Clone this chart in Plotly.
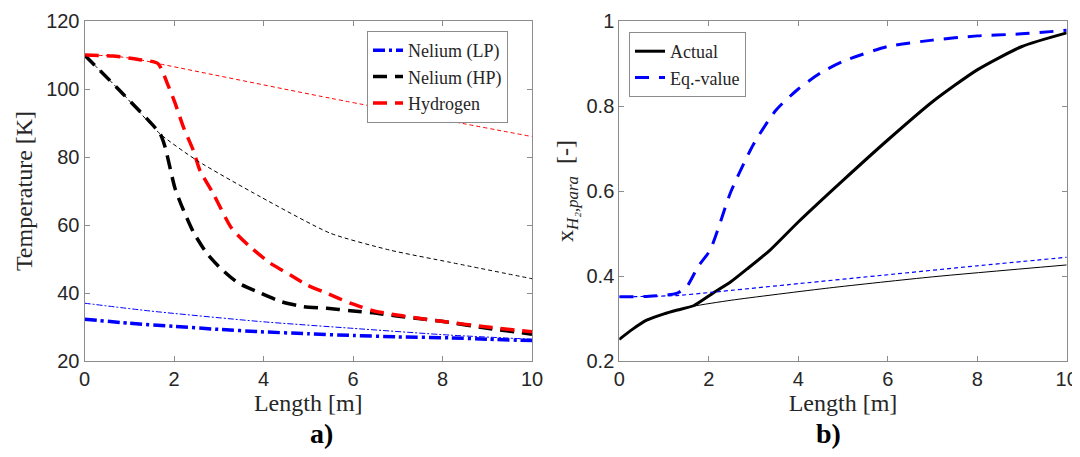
import plotly.graph_objects as go

# ---- panel a) temperatures [K] vs length [m]
lp_x = [0, 1, 2, 3, 3.93, 5, 6, 7, 8.18, 9, 10]
lp_T = [32.3, 31.1, 30.2, 29.3, 28.6, 28.0, 27.5, 27.1, 26.8, 26.4, 26.0]
lp_thin_x = [0, 1.47, 3.93, 6, 8.18, 10]
lp_thin_T = [37.0, 34.7, 31.6, 29.6, 27.6, 26.4]

hp_x = [0, 0.85, 1.69, 1.80, 2.02, 2.21, 2.43, 2.73, 3.03, 3.43, 3.93, 4.41, 4.89,
        5.42, 5.94, 6.45, 6.98, 7.51, 8.02, 9, 10]
hp_T = [110, 98.7, 86.8, 83, 70.9, 64.4, 58, 51.7, 47.4, 43, 40, 37.4, 36,
        35.5, 34.8, 34.2, 33.2, 32.4, 31.6, 29.6, 27.9]
hp_thin_x = [0, 0.85, 1.69, 2.51, 3.93, 5.49, 6.83, 8.18, 10]
hp_thin_T = [110, 98.7, 86.8, 79, 68.3, 57.6, 52.6, 49, 44.2]

h2_x = [0, 0.64, 1.20, 1.64, 1.87, 2.02, 2.21, 2.43, 2.58, 2.87, 3.29, 3.70, 4.15,
        4.60, 4.97, 5.42, 5.94, 6.45, 6.98, 7.51, 8.02, 9, 10]
h2_T = [110, 109.7, 108.7, 107.5, 101, 96, 88.8, 82, 76, 69.4, 59, 53.6, 48.8,
        45.3, 42.4, 39.9, 37, 34.8, 33.5, 32.5, 31.6, 30.0, 28.6]
h2_thin_x = [0, 0.64, 1.20, 1.64, 5.49, 10]
h2_thin_T = [110, 109.7, 108.7, 107.5, 97.3, 86.0]

# ---- panel b) para-hydrogen fraction vs length [m]
act_x = [0, 0.3, 0.61, 1.0, 1.3, 1.66, 2.1, 2.5, 2.85, 3.37, 4, 5, 6, 7, 8, 9, 10]
act_y = [0.251, 0.275, 0.296, 0.311, 0.320, 0.330, 0.360, 0.387, 0.416, 0.461, 0.527,
         0.625, 0.72, 0.81, 0.885, 0.94, 0.972]
act_thin_x = [0, 0.3, 0.61, 1.0, 1.3, 1.66, 2.5, 4.7, 7, 10]
act_thin_y = [0.251, 0.275, 0.296, 0.311, 0.320, 0.329, 0.343, 0.372, 0.398, 0.426]

eq_x = [0, 0.6, 1.28, 1.51, 1.76, 2.03, 2.5, 3, 3.5, 4, 4.5, 5, 6, 7, 8, 8.85, 10]
eq_y = [0.351, 0.352, 0.359, 0.375, 0.422, 0.461, 0.60, 0.71, 0.79, 0.84, 0.878,
        0.905, 0.94, 0.955, 0.965, 0.969, 0.978]
eq_thin_x = [0, 0.6, 1.28, 2.1, 4, 6, 8, 10]
eq_thin_y = [0.351, 0.352, 0.354, 0.362, 0.382, 0.403, 0.424, 0.444]

serif = "Liberation Serif"
sans = "Liberation Sans"
grey = "#8c8c8c"
ink = "#262626"

# the page body adds an 8px margin; size the figure so the page needs no scrollbars
OFF = 8
W, H = 1080 - OFF, 457 - 2 * OFF


def px_x(p):
    return (p - OFF) / W


def px_y(p):
    return (H - (p - OFF)) / H


def line(color, width, dash="solid"):
    return dict(color=color, width=width, dash=dash, shape="spline", smoothing=0.6)


fig = go.Figure()

# thick lines first, thin ones on top
fig.add_trace(go.Scatter(x=lp_x, y=lp_T, mode="lines", name="Nelium (LP)", legend="legend",
                         line=line("#0000ff", 3.5, "12px,4px,3px,4px")))
fig.add_trace(go.Scatter(x=hp_x, y=hp_T, mode="lines", name="Nelium (HP)", legend="legend",
                         line=line("black", 3.5, "14px,8px")))
fig.add_trace(go.Scatter(x=h2_x, y=h2_T, mode="lines", name="Hydrogen", legend="legend",
                         line=line("#ff0000", 3.5, "14px,8px")))
fig.add_trace(go.Scatter(x=lp_thin_x, y=lp_thin_T, mode="lines", showlegend=False,
                         line=line("#0000ff", 1, "6px,2px,2px,2px")))
fig.add_trace(go.Scatter(x=hp_thin_x, y=hp_thin_T, mode="lines", showlegend=False,
                         line=line("black", 1, "4px,3px")))
fig.add_trace(go.Scatter(x=h2_thin_x, y=h2_thin_T, mode="lines", showlegend=False,
                         line=line("#ff0000", 1, "4px,3px")))

fig.add_trace(go.Scatter(x=act_x, y=act_y, mode="lines", name="Actual", legend="legend2",
                         xaxis="x2", yaxis="y2", line=line("black", 3)))
fig.add_trace(go.Scatter(x=eq_x, y=eq_y, mode="lines", name="Eq.-value", legend="legend2",
                         xaxis="x2", yaxis="y2", line=line("#0000ff", 3, "14px,10px")))
fig.add_trace(go.Scatter(x=act_thin_x, y=act_thin_y, mode="lines", showlegend=False,
                         xaxis="x2", yaxis="y2", line=line("black", 1)))
fig.add_trace(go.Scatter(x=eq_thin_x, y=eq_thin_y, mode="lines", showlegend=False,
                         xaxis="x2", yaxis="y2", line=line("#0000ff", 1.2, "4px,3px")))

ax = dict(showline=True, linecolor=grey, linewidth=1, mirror="allticks", ticks="inside",
          ticklen=5, tickcolor=grey, showgrid=False, zeroline=False, automargin=False,
          tickfont=dict(family=sans, size=20, color=ink))
xt = dict(text="Length [m]", font=dict(family=serif, size=24, color=ink), standoff=2)
yfont = dict(family=serif, size=24, color=ink)
lfont = dict(family=serif, size=18, color=ink)
ydom = [px_y(361), px_y(21)]

fig.update_layout(
    width=W, height=H, autosize=False,
    margin=dict(l=0, r=0, t=0, b=0),
    plot_bgcolor="white", paper_bgcolor="white",
    xaxis=dict(ax, domain=[px_x(84.5), px_x(532)], range=[0, 10], dtick=2, anchor="y",
               title=xt),
    yaxis=dict(ax, domain=ydom, range=[20, 120], dtick=20, anchor="x",
               title=dict(text="Temperature [K]", standoff=6, font=yfont)),
    xaxis2=dict(ax, domain=[px_x(619.3), px_x(1066.7)], range=[0, 10], dtick=2,
                anchor="y2", title=xt),
    yaxis2=dict(ax, domain=ydom, range=[0.2, 1], dtick=0.2, anchor="x2",
                title=dict(text="x<sub><i>H₂,para</i></sub>  [-]", standoff=6, font=yfont)),
    legend=dict(x=px_x(367), y=px_y(31), xanchor="left", yanchor="top", bgcolor="white",
                bordercolor=grey, borderwidth=1, tracegroupgap=0, font=lfont),
    legend2=dict(x=px_x(629), y=px_y(32), xanchor="left", yanchor="top", bgcolor="white",
                 bordercolor=grey, borderwidth=1, tracegroupgap=0, font=lfont),
    annotations=[
        dict(text="<b>a)</b>", x=px_x(308), y=px_y(433), xref="paper", yref="paper",
             yanchor="middle", showarrow=False,
             font=dict(family=serif, size=28, color="black")),
        dict(text="<b>b)</b>", x=px_x(843), y=px_y(433), xref="paper", yref="paper",
             yanchor="middle", showarrow=False,
             font=dict(family=serif, size=28, color="black")),
    ],
)

fig.write_html("out.html")
